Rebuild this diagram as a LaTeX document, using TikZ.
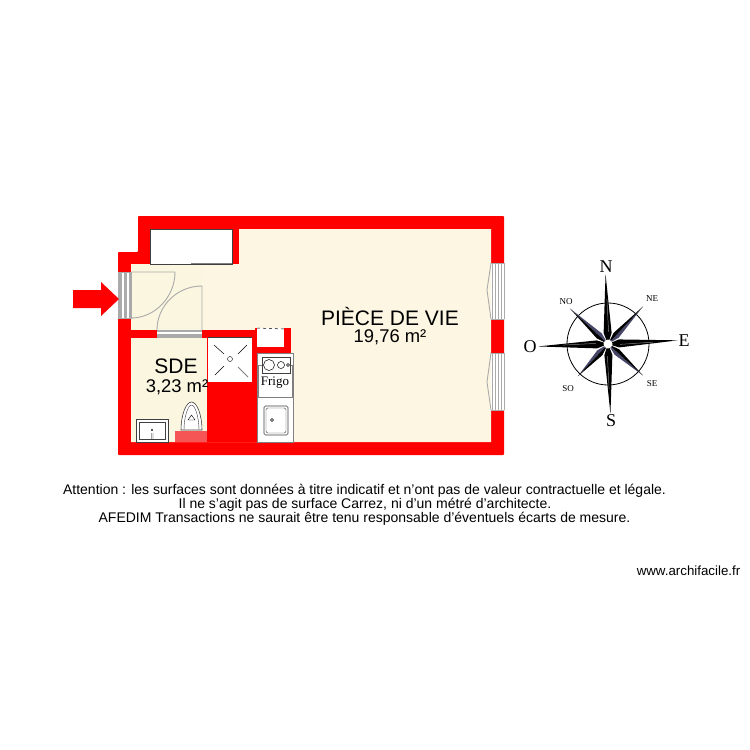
\documentclass[tikz,border=0pt]{standalone}
\usepackage{fontspec}
\setmainfont{Liberation Sans}
\newfontfamily\compassfont{Liberation Serif}
\definecolor{wallred}{RGB}{255,0,0}
\definecolor{roomcream}{RGB}{253,246,227}
\definecolor{sdecream}{RGB}{250,246,224}
\definecolor{jointgray}{RGB}{170,170,170}
\definecolor{bathpink}{RGB}{245,85,85}
\definecolor{roseblue}{RGB}{70,70,105}
\tikzset{
  fitting/.style={draw=black!75,fill=white,line width=0.6pt},
  swing/.style={draw=jointgray,line width=0.9pt},
  roomname/.style={font=\fontsize{21}{21}\selectfont,text=black},
  roomarea/.style={font=\fontsize{18.4}{19}\selectfont,text=black},
  noticeline/.style={font=\fontsize{14}{15}\selectfont,text=black},
  roselarge/.style={font=\compassfont\fontsize{18}{18}\selectfont},
  rosesmall/.style={font=\compassfont\fontsize{9}{9}\selectfont}
}
\begin{document}
\begin{tikzpicture}[x=1pt,y=-1pt]
    \useasboundingbox (0,0) rectangle (750,750);
    % outer shell of the flat
    \coordinate (C) at (608,344);
    \fill[wallred,rounded corners=0.8pt] (138,216) -- (504,216) -- (504,455) -- (118,455) -- (118,252) -- (138,252) -- cycle;
    % main room
    \fill[roomcream] (239,229) -- (491,229) -- (491,442) -- (131,442) -- (131,264) -- (239,264) -- cycle;
    % walls round the bathroom and the kitchen
    \fill[wallred] (131,330) rectangle (291,338);
    \fill[wallred] (203,338) rectangle (258,442);
    \fill[wallred] (255,328) rectangle (291,353);
    \fill[sdecream] (131,338) rectangle (207,442);
    \fill[sdecream] (131,264) rectangle (202,330);
    % cupboard
    \filldraw[fitting] (150,229) rectangle (232,264);
    \draw[black!75,line width=0.9pt] (150,264) -- (191,264);
    \draw[gray,line width=0.9pt] (191,263) -- (232,263);
    % entrance door and inner door
    \fill[white] (118,272) rectangle (131,318);
    \fill[jointgray] (118,272) rectangle (122,318);
    \fill[jointgray] (124,272) rectangle (127,318);
    \fill[jointgray] (129,272) rectangle (131,318);
    \draw[swing] (118,272) rectangle (131,318);
    \draw[swing] (131,272) -- (175,272) .. controls (175,297) and (155,318) .. (131,318);
    \fill[white] (157,330) rectangle (202,338);
    \fill[jointgray] (157,330) rectangle (202,332);
    \fill[jointgray] (157,334) rectangle (202,338);
    \draw[swing] (202,330) -- (202,286) .. controls (177,286) and (157,306) .. (157,330);
    % windows on the right
    \foreach \ytop/\ybot/\ymid in {263/319/290,353/410/382}{
      \fill[white] (491,\ytop) rectangle (504,\ybot);
      \foreach \xw in {492,495,498,501,504}
        \draw[jointgray,line width=0.9pt] (\xw,\ytop) -- (\xw,\ybot);
      \draw[jointgray,line width=0.9pt] (491,\ytop) -- (504,\ytop) (491,\ybot) -- (504,\ybot);
      \draw[swing] (491,\ytop) -- (487,\ymid) -- (491,\ybot);
    }
    % entrance arrow
    \fill[wallred] (73,290) -- (101,290) -- (101,282) -- (119,299) -- (101,316) -- (101,308) -- (73,308) -- cycle;
    % shower
    \fill[white] (208,337) rectangle (252,382);
    \draw[black!75,line width=0.6pt] (208,337) -- (252,337);
    \draw[black,line width=0.4pt] (230,359) circle (2.5);
    \draw[black,line width=0.5pt] (214,345) -- (224,354);
    \draw[black,line width=0.5pt] (247,345) -- (238,354);
    \draw[black,line width=0.5pt] (215,375) -- (224,366);
    \draw[gray,line width=0.8pt] (248,377) -- (238,367);
    % bathroom fittings
    \fill[bathpink] (175,431) rectangle (207,442);
    \filldraw[fitting] (136,419) rectangle (168,442);
    \draw[black!75,line width=0.4pt] (139,422) rectangle (165,439);
    \draw[black,line width=0.3pt] (152,430) circle (0.8) (151.5,433) -- (151.5,439) (153,433) -- (153,439);
    \filldraw[fitting] (181,430) .. controls (181,415) and (186,402) .. (191.5,402) .. controls (197,402) and (202,415) .. (202,430) -- cycle;
    \draw[black!75,line width=0.4pt] (184,430) .. controls (184,417) and (188,405) .. (191.5,405) .. controls (195,405) and (199,417) .. (199,430);
    \draw[black,line width=0.4pt] (188,420) -- (191.5,415) -- (195,420) -- cycle;
    % kitchen block
    \fill[white] (257,328) rectangle (284,347);
    \draw[black,line width=0.5pt,dashed] (257,328) -- (284,329);
    \filldraw[draw=gray,fill=white,line width=0.7pt] (257,353) rectangle (293,442);
    \draw[gray,line width=0.6pt] (258,365) rectangle (292,397);
    \filldraw[fitting] (262,357) rectangle (290,373);
    \draw[black,line width=0.5pt] (269,365) circle (5.5) (281,365) circle (3.5) (288,365) circle (1.5);
    \node[font=\compassfont\fontsize{13}{13}\selectfont] (frigo) at (275,383) {Frigo};
    \draw[black!75,line width=0.6pt,rounded corners=1.5pt] (264,406) rectangle (288,435);
    \draw[black!75,line width=0.4pt,rounded corners=1.5pt] (266,408) rectangle (286,433);
    \draw[black,line width=0.4pt] (272,420) circle (1.5);
    % room labels
    \node[roomname] (vie) at (390,316) {PIÈCE DE VIE};
    \node[roomarea] (viearea) at (390,337) {19,76 m²};
    \node[roomname] (sde) at (176,366) {SDE};
    \node[roomarea] (sdearea) at (177,387) {3,23 m²};
    % compass rose
    \draw[black,line width=0.8pt] (C) circle (41);
    \foreach \ang/\len in {-43/51,47/52,-132/47,137/44}{
      \begin{scope}[shift={(C)},rotate=\ang]
        \fill[roseblue] (0,-\len) -- (3.5,-12) -- (0,0) -- cycle;
        \fill[black] (0,-\len) -- (-3.5,-12) -- (0,0) -- cycle;
      \end{scope}
    }
    \foreach \ang in {2,-87,182,92}{
      \begin{scope}[shift={(C)},rotate=\ang]
        \fill[black] (0,-70) -- (4,-11) -- (0,0) -- (-4,-11) -- cycle;
        \draw[gray,line width=0.5pt] (1,-12) -- (0.5,-45);
      \end{scope}
    }
    \fill[white] (C) circle (4.5);
    \node[roselarge] (north) at (606,267) {N};
    \node[roselarge] (south) at (611,421) {S};
    \node[roselarge] (east) at (684,341) {E};
    \node[roselarge] (west) at (530,347) {O};
    \node[rosesmall] (ne) at (652,299) {NE};
    \node[rosesmall] (no) at (566,302) {NO};
    \node[rosesmall] (se) at (652,384) {SE};
    \node[rosesmall] (so) at (568,389) {SO};
    % notice under the plan
    \node[noticeline] (line1) at (364.5,490.5) {Attention : les surfaces sont données à titre indicatif et n’ont pas de valeur contractuelle et légale.};
    \node[noticeline] (line2) at (365,505) {Il ne s’agit pas de surface Carrez, ni d’un métré d’architecte.};
    \node[noticeline] (line3) at (364.5,519) {AFEDIM Transactions ne saurait être tenu responsable d’éventuels écarts de mesure.};
    \node[font=\fontsize{13.3}{14}\selectfont] (site) at (688.5,571) {www.archifacile.fr};
\end{tikzpicture}
\end{document}
